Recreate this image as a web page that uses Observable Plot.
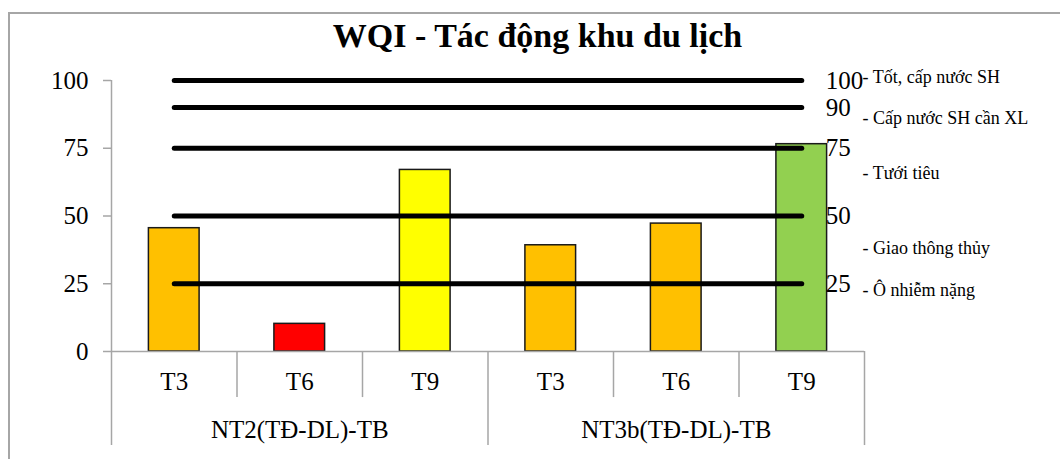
<!DOCTYPE html>
<html>
<head>
<meta charset="utf-8">
<script src="https://cdn.jsdelivr.net/npm/d3@7"></script>
<script src="https://cdn.jsdelivr.net/npm/@observablehq/plot@0.6"></script>
<style>
  html, body { margin: 0; padding: 0; background: #fff; }
  #wrap { position: relative; width: 1060px; height: 459px; overflow: hidden; background: #fff; }
  #border { position: absolute; left: 8px; top: 12px; width: 1200px; height: 600px;
            border-left: 2px solid #a6a6a6; border-top: 2px solid #a6a6a6; }
  #title { position: absolute; left: 0; top: 19px; width: 1075px; text-align: center;
           font-family: "Liberation Serif", "Times New Roman", serif; font-weight: bold;
           font-size: 34px; line-height: 34px; color: #000; }
  #chart { position: absolute; left: 0; top: 0; }
  #chart svg text { font-family: "Liberation Serif", "Times New Roman", serif; }
</style>
</head>
<body>
<div id="wrap">
  <div id="border"></div>
  <div id="chart"></div>
  <div id="title">WQI - Tác động khu du lịch</div>
</div>
<script>
// ---- data ----
const groups = ["NT2(TĐ-DL)-TB", "NT3b(TĐ-DL)-TB"];
const months = ["T3", "T6", "T9"];
const wqi = [45.5, 10.2, 67.0, 39.2, 47.2, 76.5];
const thresholdLevels = [100, 90, 75, 50, 25];
const classLabels = ["- Tốt, cấp nước SH", "- Cấp nước SH cần XL", "- Tưới tiêu", "- Giao thông thủy", "- Ô nhiễm nặng"];
const classLabelLevels = [101.2, 86.0, 65.7, 38.0, 22.5];
const yTicks = [0, 25, 50, 75, 100];
const classBreaks = [26, 51, 76, 91];
const classColors = ["#FF0000", "#FFC000", "#FFFF00", "#92D050", "#0070C0"];

// ---- layout constants (in scale units) ----
const BAR_HALF = 0.202;
const ROW_MONTH = -11.4, ROW_MONTH_END = -17.0, ROW_GROUP = -28.8, ROW_GROUP_END = -34.7;
const GRAY = "#a6a6a6";
const SERIF = "'Liberation Serif', 'Times New Roman', serif";

const bars = wqi.map((v, i) => ({
  i, group: groups[Math.floor(i / months.length)], month: months[i % months.length], wqi: v
}));
const linePts = thresholdLevels.flatMap(level => bars.map(b => ({x: b.i + 0.5, level})));
const boundaries = d3.range(bars.length + 1).map(k => ({
  x: k,
  top: k === 0 ? 100 : 0,
  bottom: k % months.length === 0 ? ROW_GROUP_END : ROW_MONTH_END
}));

const chart = Plot.plot({
  width: 1060,
  height: 459,
  marginLeft: 111,
  marginRight: 196,
  marginTop: 80,
  marginBottom: 108,
  style: {fontFamily: SERIF, fontSize: "25px", background: "transparent", color: "#000"},
  x: {domain: [0, bars.length], axis: null},
  y: {domain: [0, 100]},
  color: {type: "threshold", domain: classBreaks, range: classColors},
  marks: [
    Plot.rectY(bars, {
      x1: d => d.i + 0.5 - BAR_HALF, x2: d => d.i + 0.5 + BAR_HALF, y: "wqi",
      fill: "wqi", stroke: "#1a1a1a", strokeWidth: 1.5
    }),
    Plot.ruleY([0], {stroke: GRAY, strokeWidth: 1.5}),
    Plot.ruleX(boundaries, {x: "x", y1: "top", y2: "bottom", stroke: GRAY, strokeWidth: 1.5}),
    Plot.axisY({ticks: yTicks, tickSize: 8, tickPadding: 15, stroke: GRAY, strokeWidth: 1.5, fill: "#000", fontSize: 25, fontFamily: SERIF, label: null}),
    Plot.line(linePts, {x: "x", y: "level", z: "level", stroke: "#000", strokeWidth: 5, strokeLinecap: "round"}),
    Plot.text(linePts, Plot.selectLast({x: "x", y: "level", z: "level", text: d => String(d.level), textAnchor: "start", dx: 24, fontSize: 25, fontFamily: SERIF})),
    Plot.text(classLabels, {x: bars.length, y: (d, i) => classLabelLevels[i], text: d => d, textAnchor: "start", dx: -2, fontSize: 18, fontFamily: SERIF}),
    Plot.text(bars, {x: d => d.i + 0.5, y: ROW_MONTH, text: "month", fontSize: 25, fontFamily: SERIF}),
    Plot.text(groups, {x: (d, i) => i * months.length + months.length / 2, y: ROW_GROUP, text: d => d, fontSize: 25, fontFamily: SERIF})
  ]
});
document.getElementById("chart").appendChild(chart);
</script>
</body>
</html>
